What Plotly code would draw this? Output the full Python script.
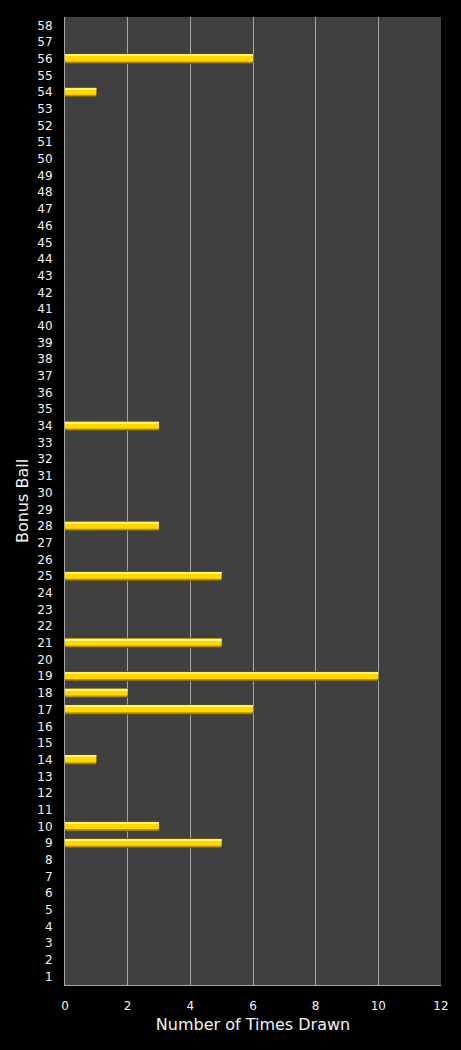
import plotly.graph_objects as go

# bonus ball numbers 1..58 and how many times each was drawn
balls = list(range(1, 59))
drawn = {9: 5, 10: 3, 14: 1, 17: 6, 18: 2, 19: 10, 21: 5, 25: 5, 28: 3, 34: 3, 54: 1, 56: 6}
counts = [drawn.get(b, 0) for b in balls]
labels = [str(b) for b in balls]
x_ticks = [0, 2, 4, 6, 8, 10, 12]

fig = go.Figure()
# base (dark lower edge)
fig.add_trace(go.Bar(
    x=counts, y=labels, orientation="h",
    marker=dict(color="#b89400", line=dict(color="#5c4a00", width=0.8)),
    width=0.56, offset=-0.28, hoverinfo="x+y",
))
# bright body
fig.add_trace(go.Bar(
    x=counts, y=labels, orientation="h",
    marker=dict(color="#ffd800", line=dict(width=0)),
    width=0.40, offset=-0.16, hoverinfo="skip",
))
# light top edge
fig.add_trace(go.Bar(
    x=counts, y=labels, orientation="h",
    marker=dict(color="#fff27a", line=dict(width=0)),
    width=0.08, offset=0.17, hoverinfo="skip",
))

fig.update_layout(
    width=461, height=1050,
    paper_bgcolor="black", plot_bgcolor="#404040",
    margin=dict(l=65, r=20, t=17, b=65),
    barmode="overlay", showlegend=False,
    font=dict(family="DejaVu Sans", color="#f2f2f2", size=12),
)
fig.update_xaxes(
    range=[0, 12], tickvals=x_ticks, showgrid=True, gridcolor="#a6a6a6", gridwidth=1,
    showline=True, linecolor="#a6a6a6", zeroline=False,
    ticks="outside", ticklen=10, tickcolor="black",
    title=dict(text="Number of Times Drawn", font=dict(size=16), standoff=6),
)
fig.update_yaxes(
    type="category", categoryorder="array", categoryarray=labels,
    showgrid=False, showline=True, linecolor="#a6a6a6",
    ticks="outside", ticklen=9, tickcolor="black", dtick=1,
    title=dict(text="Bonus Ball", font=dict(size=16), standoff=4),
)

fig.write_html(
    "out.html",
    config={"displayModeBar": False},
    post_script="document.body.style.margin='0';document.body.style.background='black';",
)
